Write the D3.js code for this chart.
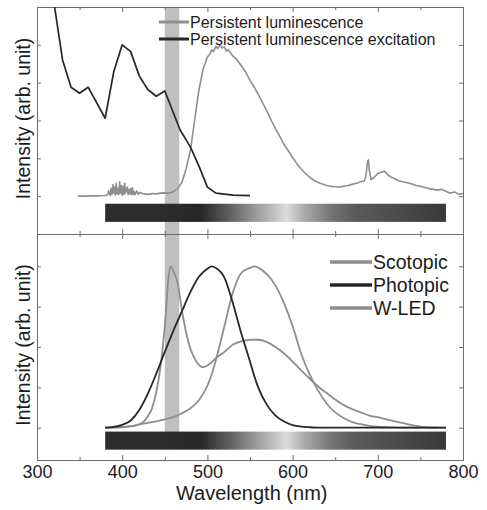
<!DOCTYPE html>
<html>
<head>
<meta charset="utf-8">
<style>
  body { margin: 0; background: #fff; }
  svg text { font-family: "Liberation Sans", Arial, sans-serif; }
</style>
</head>
<body>
<div id="chart"></div>
<script src="https://d3js.org/d3.v7.min.js"></script>
<script>
// ---- data ----
// top panel
var excWl  = [318, 330, 340, 350, 360, 380, 390, 400, 410, 420, 430, 440, 450, 468, 480, 490, 500, 510, 530, 550];
var excVal = [1.35, 0.90, 0.72, 0.68, 0.72, 0.515, 0.82, 1.0, 0.955, 0.795, 0.705, 0.66, 0.695, 0.437, 0.326, 0.20, 0.06, 0.02, 0.007, 0.003];

var emWl  = [348, 370, 380, 383, 384, 386, 387, 388, 389, 390, 391, 392, 393, 394, 395, 396, 397, 398, 399, 400, 401, 402, 403, 404, 405, 406, 407, 408, 409, 410,
             411, 412, 413, 414, 415, 417, 419, 421,
             425, 430, 435, 440, 445, 450, 455, 460, 465, 470, 475, 480, 485, 490, 495, 500, 503, 505, 507, 510, 512, 515, 517, 520, 522, 525, 530, 535, 540, 545,
             550, 555, 560, 565, 570, 575, 580, 585, 590, 595, 600, 605, 610, 615, 620, 625, 630, 635, 640, 645, 650, 655, 660, 665, 670,
             675, 680, 684, 686, 688, 689, 690, 692, 695, 700, 705, 708, 712, 716, 720, 725, 730, 740, 745, 750, 760, 770, 775, 780, 785, 790, 795, 800];
var emVal = [0, 0.002, 0.004, 0.01, 0.035, 0.005, 0.05, 0.012, 0.075, 0.02, 0.06, 0.008, 0.085, 0.015, 0.05, 0.01, 0.095, 0.02, 0.07, 0.006, 0.065, 0.012, 0.085, 0.02, 0.04, 0.06, 0.01, 0.045, 0.015, 0.05,
             0.01, 0.055, 0.012, 0.03, 0.01, 0.035, 0.012, 0.025,
             0.015, 0.012, 0.018, 0.015, 0.02, 0.022, 0.02, 0.03, 0.05, 0.09, 0.18, 0.3, 0.5, 0.7, 0.84, 0.92, 0.94, 0.965, 0.955, 0.99, 0.975, 1.0, 0.98, 0.985, 0.96, 0.965, 0.925, 0.9, 0.86, 0.82,
             0.765, 0.72, 0.67, 0.615, 0.56, 0.5, 0.445, 0.395, 0.34, 0.3, 0.255, 0.215, 0.18, 0.15, 0.125, 0.105, 0.09, 0.08, 0.07, 0.065, 0.062, 0.06, 0.065, 0.07, 0.078,
             0.085, 0.095, 0.1, 0.13, 0.23, 0.24, 0.17, 0.11, 0.12, 0.15, 0.16, 0.165, 0.14, 0.125, 0.115, 0.1, 0.095, 0.08, 0.07, 0.065, 0.05, 0.04, 0.045, 0.032, 0.02, 0.028, 0.012, 0.018];

// bottom panel
var sensWl   = [380, 390, 400, 410, 420, 430, 440, 450, 460, 470, 480, 490, 500, 505, 510, 520, 530, 540, 550, 555, 560, 570, 580, 590, 600, 610, 620, 630, 640, 650, 660, 670, 680, 690, 700, 720, 740, 760, 780];
var scotopic = [0, 0.002, 0.005, 0.01, 0.02, 0.03, 0.04, 0.052, 0.066, 0.09, 0.12, 0.17, 0.26, 0.33, 0.42, 0.63, 0.84, 0.96, 0.99, 1.0, 0.99, 0.95, 0.88, 0.77, 0.63, 0.46, 0.33, 0.23, 0.15, 0.095, 0.06, 0.035, 0.022, 0.012, 0.006, 0.002, 0, 0, 0];
var photopic = [0, 0.005, 0.018, 0.045, 0.11, 0.21, 0.335, 0.47, 0.6, 0.72, 0.84, 0.935, 0.985, 1.0, 0.99, 0.93, 0.77, 0.58, 0.41, 0.32, 0.245, 0.14, 0.075, 0.038, 0.016, 0.007, 0.003, 0.001, 0, 0, 0, 0, 0, 0, 0, 0, 0, 0, 0];

var ledWl  = [380, 400, 410, 420, 430, 435, 440, 445, 450, 455, 457, 460, 465, 470, 475, 480, 485, 490, 495, 500, 510, 520, 530, 540, 550, 560, 570, 580, 590, 600,
              610, 620, 630, 640, 650, 660, 670, 680, 690, 700, 710, 720, 730, 740, 750, 760, 770];
var ledVal = [0, 0.003, 0.008, 0.02, 0.07, 0.12, 0.22, 0.38, 0.63, 0.96, 1.0, 0.97, 0.9, 0.73, 0.59, 0.49, 0.43, 0.39, 0.375, 0.385, 0.43, 0.47, 0.515, 0.535, 0.545, 0.545, 0.53, 0.5, 0.46, 0.41,
              0.355, 0.305, 0.255, 0.215, 0.175, 0.14, 0.115, 0.095, 0.075, 0.065, 0.052, 0.04, 0.028, 0.016, 0.007, 0.002, 0];

var xTicks = [300, 400, 500, 600, 700, 800];
var xMinor = [350, 450, 550, 650, 750];
var yTicks = [0, 0.25, 0.5, 0.75, 1];
var band = [450, 467];        // highlighted excitation band (nm)
var spectrum = [380, 780];    // colour bar range (nm)
var topLegend = ["Persistent luminescence", "Persistent luminescence excitation"];
var botLegend = ["Scotopic", "Photopic", "W-LED"];

var gray = "#8e8e8e", dark = "#272727", axisCol = "#6e6e6e";

function zip(a, b) { return a.map(function(d, i) { return [d, b[i]]; }); }

var svg = d3.select("#chart").append("svg")
    .attr("width", 487)
    .attr("height", 510);

var x = d3.scaleLinear().domain([300, 800]).range([37, 463]);
var yTop = d3.scaleLinear().domain([-0.25, 1.25]).range([234, 7]);
var yBot = d3.scaleLinear().domain([-0.2, 1.2]).range([460, 234]);

// grey-scale rendering of the visible spectrum
var grad = svg.append("defs").append("linearGradient")
    .attr("id", "spec")
    .attr("x1", "0%").attr("x2", "100%");
var stops = [[380, "#2e2e2e"], [470, "#2a2a2a"], [492, "#262626"], [525, "#5e5e5e"], [560, "#a0a0a0"],
             [593, "#dcdcdc"], [615, "#a8a8a8"], [645, "#747474"], [675, "#5a5a5a"], [715, "#4e4e4e"], [780, "#393939"]];
stops.forEach(function(s) {
  grad.append("stop")
      .attr("offset", ((s[0] - 380) / 400 * 100) + "%")
      .attr("stop-color", s[1]);
});

svg.select("defs").append("clipPath").attr("id", "clipTop")
  .append("rect").attr("x", 37).attr("y", 7).attr("width", 426).attr("height", 227);

// vertical band across both panels, under everything
svg.append("rect")
    .attr("x", x(band[0]))
    .attr("width", x(band[1]) - x(band[0]))
    .attr("y", yTop.range()[1])
    .attr("height", yBot(-0.1) - yTop.range()[1])
    .attr("fill", "#bfbfbf");

// colour bars
svg.append("rect")
    .attr("x", x(spectrum[0])).attr("width", x(spectrum[1]) - x(spectrum[0]))
    .attr("y", yTop(-0.05)).attr("height", yTop(-0.17) - yTop(-0.05))
    .attr("fill", "url(#spec)");
svg.append("rect")
    .attr("x", x(spectrum[0])).attr("width", x(spectrum[1]) - x(spectrum[0]))
    .attr("y", yBot(-0.024)).attr("height", yBot(-0.136) - yBot(-0.024))
    .attr("fill", "url(#spec)");

// axes for a panel (ticks point inward on all four sides)
function frame(y, showLabels) {
  var r = y.range();
  var g = svg.append("g").attr("class", "frame");
  g.append("g").attr("transform", "translate(0," + r[0] + ")")
    .call(d3.axisBottom(x).tickValues(xTicks).tickSize(-5).tickSizeOuter(0).tickPadding(5)
      .tickFormat(showLabels ? d3.format("d") : ""));
  g.append("g").attr("transform", "translate(0," + r[0] + ")")
    .call(d3.axisBottom(x).tickValues(xMinor).tickSize(-3).tickSizeOuter(0).tickFormat(""));
  g.append("g").attr("transform", "translate(0," + r[1] + ")")
    .call(d3.axisTop(x).tickValues(xTicks).tickSize(-5).tickSizeOuter(0).tickFormat(""));
  g.append("g").attr("transform", "translate(0," + r[1] + ")")
    .call(d3.axisTop(x).tickValues(xMinor).tickSize(-3).tickSizeOuter(0).tickFormat(""));
  g.append("g").attr("transform", "translate(" + x.range()[0] + ",0)")
    .call(d3.axisLeft(y).tickValues(yTicks).tickSize(-4).tickSizeOuter(0).tickFormat(""));
  g.append("g").attr("transform", "translate(" + x.range()[1] + ",0)")
    .call(d3.axisRight(y).tickValues(yTicks).tickSize(-4).tickSizeOuter(0).tickFormat(""));
  g.selectAll("path, line").attr("stroke", axisCol).attr("stroke-width", 1);
  g.selectAll("text").attr("font-size", 18).attr("fill", "#1c1c1c")
    .attr("font-family", "Liberation Sans, Arial, sans-serif");
}
frame(yTop, false);
frame(yBot, true);

// curves
var lineTop = d3.line().x(function(d) { return x(d[0]); }).y(function(d) { return yTop(d[1]); });
var lineBot = d3.line().x(function(d) { return x(d[0]); }).y(function(d) { return yBot(d[1]); })
    .curve(d3.curveMonotoneX);

svg.append("path").datum(zip(emWl, emVal))
    .attr("d", lineTop).attr("fill", "none").attr("stroke", gray).attr("stroke-width", 1.6)
    .attr("stroke-linejoin", "round")
    .attr("clip-path", "url(#clipTop)");
svg.append("path").datum(zip(excWl, excVal))
    .attr("d", lineTop).attr("fill", "none").attr("stroke", dark).attr("stroke-width", 1.7)
    .attr("stroke-linejoin", "round")
    .attr("clip-path", "url(#clipTop)");

svg.append("path").datum(zip(ledWl, ledVal))
    .attr("d", lineBot).attr("fill", "none").attr("stroke", gray).attr("stroke-width", 1.8);
svg.append("path").datum(zip(sensWl, scotopic))
    .attr("d", lineBot).attr("fill", "none").attr("stroke", gray).attr("stroke-width", 1.8);
svg.append("path").datum(zip(sensWl, photopic))
    .attr("d", lineBot).attr("fill", "none").attr("stroke", dark).attr("stroke-width", 1.8);

// legends
var tl = svg.append("g");
topLegend.forEach(function(t, i) {
  var yy = 22 + i * 17;
  tl.append("line").attr("x1", 159).attr("x2", 189).attr("y1", yy).attr("y2", yy)
    .attr("stroke", i === 0 ? gray : dark).attr("stroke-width", 3);
  tl.append("text").attr("x", 190).attr("y", yy + 5.5).attr("font-size", 16).attr("fill", "#1c1c1c").text(t);
});
var bl = svg.append("g");
botLegend.forEach(function(t, i) {
  var yy = 262 + i * 23;
  bl.append("line").attr("x1", 330).attr("x2", 372).attr("y1", yy).attr("y2", yy)
    .attr("stroke", i === 1 ? dark : gray).attr("stroke-width", 3.5);
  bl.append("text").attr("x", 373).attr("y", yy + 7).attr("font-size", 19.5).attr("fill", "#1c1c1c").text(t);
});

// axis titles
svg.append("text")
    .attr("text-anchor", "middle")
    .attr("transform", "translate(30," + ((yTop.range()[0] + yTop.range()[1]) / 2 - 2) + ")rotate(-90)")
    .attr("font-size", 19.5).attr("fill", "#1c1c1c")
    .text("Intensity (arb. unit)");
svg.append("text")
    .attr("text-anchor", "middle")
    .attr("transform", "translate(30," + ((yBot.range()[0] + yBot.range()[1]) / 2 - 2) + ")rotate(-90)")
    .attr("font-size", 19.5).attr("fill", "#1c1c1c")
    .text("Intensity (arb. unit)");
svg.append("text")
    .attr("text-anchor", "middle")
    .attr("x", x(552)).attr("y", 500)
    .attr("font-size", 20).attr("fill", "#1c1c1c")
    .text("Wavelength (nm)");
</script>
</body>
</html>
